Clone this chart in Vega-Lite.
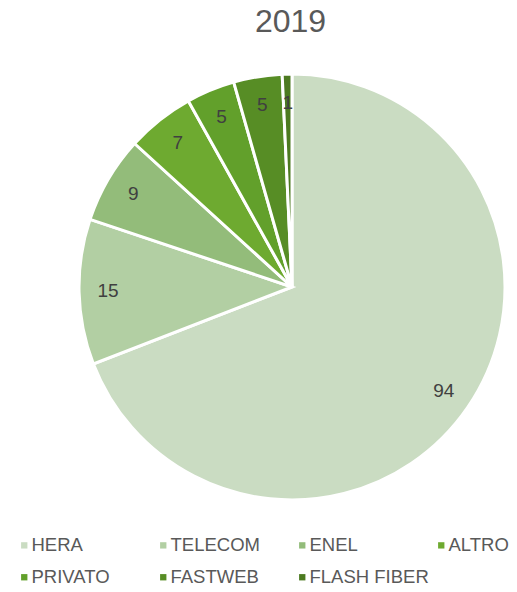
{
  "$schema": "https://vega.github.io/schema/vega-lite/v6.json",
  "width": 517,
  "height": 547,
  "autosize": {"type": "none"},
  "padding": {"top": 45, "left": 0, "right": 0, "bottom": 0},
  "background": "white",
  "title": {"text": "2019", "anchor": "middle", "dx": 32, "offset": 6, "fontSize": 32, "fontWeight": "normal", "font": "Liberation Sans", "color": "#595959"},
  "data": {"values": [
    {"fornitore": "HERA", "valore": 94, "ordine": 1},
    {"fornitore": "TELECOM", "valore": 15, "ordine": 2},
    {"fornitore": "ENEL", "valore": 9, "ordine": 3},
    {"fornitore": "ALTRO", "valore": 7, "ordine": 4},
    {"fornitore": "PRIVATO", "valore": 5, "ordine": 5},
    {"fornitore": "FASTWEB", "valore": 5, "ordine": 6},
    {"fornitore": "FLASH FIBER", "valore": 1, "ordine": 7}
  ]},
  "encoding": {
    "theta": {"field": "valore", "type": "quantitative", "stack": true},
    "order": {"field": "ordine", "type": "quantitative"},
    "color": {
      "field": "fornitore", "type": "nominal",
      "sort": ["HERA", "TELECOM", "ENEL", "ALTRO", "PRIVATO", "FASTWEB", "FLASH FIBER"],
      "scale": {"domain": ["HERA", "TELECOM", "ENEL", "ALTRO", "PRIVATO", "FASTWEB", "FLASH FIBER"],
                "range": ["#cadcc2", "#b2cfa3", "#93bc7a", "#6eaa30", "#62a02b", "#578d25", "#4c7a20"]},
      "legend": {
        "title": null, "orient": "none", "legendX": 15, "legendY": 491, "direction": "horizontal",
        "columns": 4, "gridAlign": "all", "columnPadding": 3, "rowPadding": 13,
        "symbolType": "square", "symbolSize": 40, "symbolStrokeWidth": 0, "symbolOffset": 0,
        "labelFontSize": 18.5, "labelFont": "Liberation Sans", "labelColor": "#595959", "labelOffset": -2
      }
    }
  },
  "layer": [
    {"mark": {"type": "arc", "x": 292, "y": 242, "outerRadius": 213, "stroke": "white", "strokeWidth": 3}},
    {"mark": {"type": "text", "x": 292, "y": 242, "radius": 184, "fontSize": 19, "font": "Liberation Sans", "fill": "#404040"},
     "encoding": {"text": {"field": "valore", "type": "quantitative"}, "color": {"value": "#404040"}}}
  ]
}
